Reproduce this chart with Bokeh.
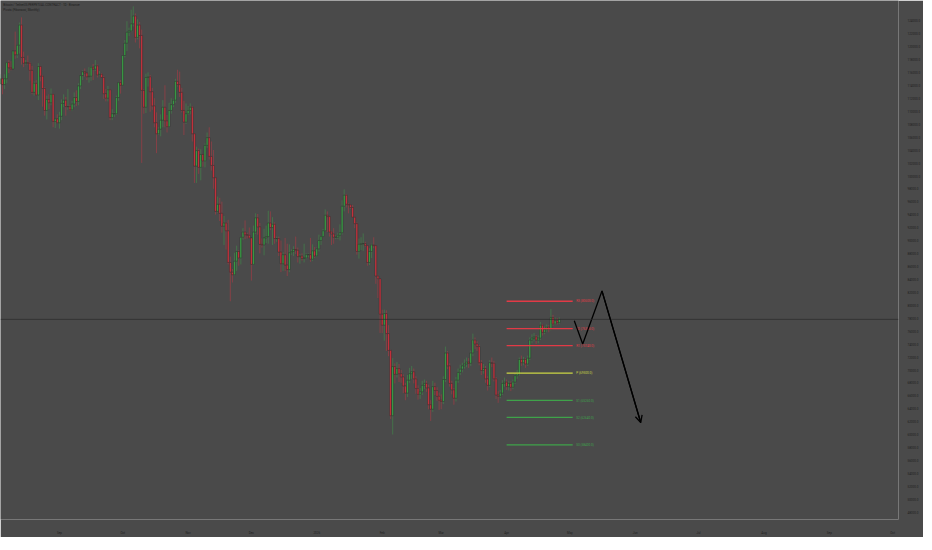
import pandas as pd
from bokeh.plotting import figure
from bokeh.models import (ColumnDataSource, Range1d, FixedTicker, NumeralTickFormatter,
                          Span, Label, Arrow, OpenHead)
from bokeh.core.properties import value
from bokeh.embed import file_html
from bokeh.resources import INLINE

# daily BTCUSDT candles, prices in thousands of USDT, first candle 2025-08-04
first_day = "2025-08-04"
first_open = 114.2

close_aug = [115.0, 114.1, 115.0, 117.5, 116.7, 116.5, 119.3, 118.7, 120.2, 123.3, 118.3, 117.4, 117.5, 117.4,
             116.3, 112.9, 114.3, 112.5, 116.9, 115.4, 113.5, 110.1, 111.8, 111.3, 112.6, 108.4, 108.8, 108.2]
high_aug = [115.7, 115.1, 115.7, 117.6, 117.9, 117.7, 119.3, 122.3, 120.3, 123.7, 124.5, 119.2, 117.9, 118.6,
            117.6, 117.0, 114.6, 114.8, 117.4, 117.0, 115.6, 113.7, 112.4, 112.6, 113.5, 112.7, 108.9, 109.5]
low_aug = [114.1, 112.6, 113.4, 114.3, 115.9, 116.3, 116.5, 118.1, 118.2, 118.9, 117.2, 116.8, 117.2, 117.2,
           114.7, 112.6, 112.4, 112.4, 111.7, 114.6, 110.7, 109.3, 108.7, 110.3, 110.9, 107.5, 107.4, 108.1]

close_sep = [109.2, 111.2, 111.7, 110.7, 110.7, 110.2, 111.1, 112.1, 111.5, 113.9, 115.5, 116.1, 115.9, 115.3, 115.4,
             116.8, 116.5, 117.0, 115.6, 115.7, 115.2, 112.7, 112.0, 113.3, 109.0, 109.6, 109.6, 112.1, 114.4, 114.0]
high_sep = [109.9, 111.8, 112.6, 112.2, 113.4, 111.0, 111.6, 112.9, 113.2, 114.3, 115.5, 116.3, 116.6, 116.0, 116.8,
            117.0, 117.3, 117.9, 117.2, 116.2, 115.9, 115.4, 113.4, 113.9, 113.4, 110.3, 109.8, 112.4, 114.5, 114.8]
low_sep = [107.3, 108.6, 110.6, 109.3, 110.2, 110.0, 110.0, 110.6, 110.8, 110.9, 113.4, 114.8, 115.3, 114.8, 114.4,
           114.7, 114.8, 116.2, 115.2, 115.4, 115.2, 111.9, 111.5, 111.5, 108.6, 108.6, 109.1, 109.4, 111.6, 112.7]

close_oct = [118.6, 120.5, 122.2, 122.4, 123.5, 124.7, 121.4, 123.3, 121.7, 113.2, 110.6, 115.2, 115.3, 113.0, 110.8,
             108.2, 106.5, 107.2, 108.6, 110.6, 108.5, 107.6, 110.1, 111.0, 111.7, 114.6, 114.1, 112.9, 110.1, 108.3, 109.6]
high_oct = [118.7, 121.0, 123.9, 122.9, 125.7, 126.2, 125.1, 124.2, 123.8, 122.6, 113.4, 115.8, 116.0, 115.6, 113.6,
            112.0, 109.8, 107.5, 109.5, 111.7, 114.0, 109.4, 111.3, 112.0, 111.9, 115.0, 116.4, 116.1, 113.6, 111.6, 111.2]
low_oct = [113.9, 118.3, 119.3, 121.6, 122.2, 123.1, 120.6, 121.1, 119.7, 102.0, 109.6, 109.7, 113.8, 109.9, 110.2,
           107.5, 103.5, 106.3, 106.1, 107.5, 107.5, 106.7, 107.5, 109.6, 110.6, 111.3, 113.8, 112.2, 109.8, 106.3, 108.0]

close_nov = [110.1, 110.6, 106.5, 101.5, 103.9, 101.3, 103.3, 102.3, 104.7, 105.9, 103.0, 101.6, 99.7, 94.5, 95.6,
             94.2, 92.2, 92.7, 91.5, 86.6, 85.1, 84.7, 86.8, 88.3, 87.3, 90.5, 91.3, 90.9, 90.8, 90.4]
high_nov = [110.8, 111.2, 110.8, 106.6, 104.5, 104.2, 104.1, 103.4, 105.0, 106.7, 107.5, 105.3, 104.0, 99.8, 96.8,
            96.6, 96.0, 93.8, 92.9, 93.2, 87.5, 85.6, 88.1, 89.2, 88.5, 90.6, 91.9, 93.1, 91.2, 92.0]
low_nov = [109.4, 109.5, 105.3, 98.9, 98.9, 100.3, 99.3, 101.4, 101.3, 104.3, 102.5, 100.8, 98.0, 94.0, 94.3,
           93.0, 91.2, 89.3, 88.6, 86.3, 80.6, 83.5, 84.6, 85.3, 86.1, 86.3, 90.1, 90.2, 90.3, 90.3]

close_dec = [86.3, 91.3, 93.5, 92.1, 89.4, 89.3, 90.4, 90.6, 92.7, 92.0, 92.5, 90.3, 90.3, 88.2, 86.4, 87.8,
             86.2, 85.5, 88.1, 88.3, 88.6, 88.5, 87.5, 87.6, 87.2, 87.3, 87.8, 87.8, 87.1, 88.4, 87.6]
high_dec = [90.4, 92.3, 94.2, 94.1, 92.7, 90.3, 91.8, 92.3, 94.6, 94.5, 93.6, 92.8, 90.6, 90.6, 90.0, 88.2,
            90.4, 89.5, 89.4, 88.6, 89.1, 90.6, 88.9, 87.9, 88.0, 89.5, 88.0, 88.0, 90.4, 89.4, 89.0]
low_dec = [83.8, 86.2, 91.0, 90.9, 88.0, 88.9, 87.7, 89.6, 89.5, 91.6, 89.3, 89.5, 89.8, 87.6, 85.1, 85.3,
           85.3, 84.5, 85.1, 87.8, 87.6, 87.9, 86.6, 86.4, 86.9, 86.6, 87.1, 87.4, 86.7, 86.8, 87.3]

close_jan = [88.7, 90.0, 90.6, 91.5, 93.9, 93.7, 91.3, 91.0, 90.5, 90.5, 90.8, 91.2, 95.3, 97.0, 95.6, 95.5,
             95.1, 93.6, 92.6, 88.3, 89.4, 89.5, 89.5, 89.2, 86.6, 88.3, 89.3, 89.2, 84.5, 84.1, 78.6]
high_jan = [88.9, 90.9, 90.7, 91.8, 94.8, 94.5, 93.7, 91.5, 91.9, 90.8, 91.2, 92.5, 96.2, 97.9, 97.2, 95.8,
            95.6, 95.5, 93.7, 92.8, 90.3, 90.5, 91.1, 89.8, 89.3, 88.8, 89.5, 90.5, 89.3, 84.7, 84.1]
low_jan = [87.4, 88.3, 89.3, 90.5, 91.4, 91.3, 90.6, 89.3, 89.5, 90.2, 90.2, 90.0, 90.9, 94.5, 95.1, 94.2,
           94.9, 93.6, 91.9, 87.8, 87.2, 88.5, 88.4, 89.0, 86.1, 86.2, 87.3, 88.8, 83.3, 81.1, 75.7]

close_feb = [76.9, 78.7, 75.6, 73.0, 62.9, 70.5, 69.3, 70.2, 69.4, 68.9, 67.5, 66.4, 68.4, 69.4,
             69.7, 68.6, 67.1, 66.2, 66.6, 67.6, 67.9, 67.2, 64.6, 63.9, 67.4, 66.8, 65.9, 65.3]
high_feb = [79.3, 79.3, 79.2, 76.9, 73.1, 71.8, 71.0, 71.2, 70.9, 70.0, 69.3, 68.0, 69.2, 70.3,
            70.6, 70.2, 69.0, 67.6, 67.2, 68.3, 68.5, 68.3, 67.7, 65.3, 68.3, 68.0, 67.3, 66.5]
low_feb = [75.7, 74.5, 72.9, 72.1, 62.4, 60.0, 67.9, 68.8, 68.1, 68.0, 66.4, 65.3, 65.8, 68.0,
           68.6, 67.9, 66.3, 65.4, 65.5, 66.1, 67.0, 66.6, 63.9, 62.1, 63.5, 66.1, 65.2, 63.8]

close_mar = [65.1, 68.5, 72.6, 70.6, 67.9, 66.9, 65.6, 68.4, 69.6, 70.1, 70.6, 70.9, 71.2, 71.0, 72.6, 74.6,
             74.0, 73.6, 71.1, 69.9, 70.2, 68.6, 67.6, 71.1, 71.0, 68.6, 66.1, 65.9, 66.4, 67.9, 68.1]
high_mar = [66.2, 69.0, 73.6, 72.9, 71.0, 68.3, 67.2, 68.9, 70.2, 70.8, 71.1, 71.6, 71.9, 71.8, 73.0, 75.6,
            75.0, 74.4, 73.9, 71.5, 70.9, 70.6, 69.0, 71.5, 71.9, 71.4, 68.9, 66.7, 66.9, 68.4, 68.8]
low_mar = [63.9, 64.7, 68.1, 70.1, 67.4, 66.2, 64.6, 65.1, 68.0, 69.2, 69.6, 70.2, 70.4, 70.3, 70.6, 72.1,
           73.2, 72.9, 70.7, 69.2, 69.4, 68.0, 66.8, 67.3, 70.4, 68.2, 65.5, 64.9, 65.6, 66.1, 67.4]

close_apr = [67.4, 67.9, 67.3, 68.1, 69.1, 69.4, 71.6, 71.1, 71.6, 70.9, 71.8, 74.6, 74.9,
             75.1, 74.6, 74.9, 76.9, 75.8, 76.2, 76.6, 76.3, 78.1, 77.1, 77.6, 77.3, 77.8]
high_apr = [68.5, 68.3, 68.2, 68.5, 69.4, 70.0, 71.9, 72.2, 72.0, 71.8, 72.2, 75.0, 75.5,
            75.7, 75.4, 75.3, 77.4, 77.1, 76.7, 77.0, 76.9, 79.4, 78.5, 78.1, 78.0, 78.1]
low_apr = [66.9, 66.8, 66.7, 67.0, 67.8, 68.6, 69.1, 70.6, 70.7, 70.3, 70.6, 71.5, 74.1,
           74.4, 74.0, 74.1, 74.6, 75.3, 75.5, 75.9, 75.8, 76.1, 76.8, 76.9, 77.0, 77.1]

# monthly fibonacci pivots (April)
pivot_names = ["R3", "R2", "R1", "P", "S1", "S2", "S3"]
pivot_levels = [80600.0, 76360.0, 73740.0, 69500.0, 65260.0, 62640.0, 58400.0]
pivot_colors = ["#e23a46", "#e23a46", "#e23a46", "#cbd645", "#3fa34a", "#3fa34a", "#3fa34a"]
pivot_start = "2026-04-01"
pivot_end = "2026-05-02 08:00"
pivot_text_at = "2026-05-04"

# hand-drawn projection path
path_dates = ["2026-05-03 02:00", "2026-05-07 02:00", "2026-05-16 05:00", "2026-06-03 14:00"]
path_prices = [77600, 74000, 82200, 61850]

month_ticks = ["2025-09-01", "2025-10-01", "2025-11-01", "2025-12-01", "2026-01-01", "2026-02-01", "2026-03-01",
               "2026-04-01", "2026-05-01", "2026-06-01", "2026-07-01", "2026-08-01", "2026-09-01", "2026-10-01"]
month_labels = ["Sep", "Oct", "Nov", "Dec", "2026", "Feb", "Mar", "Apr", "May", "Jun", "Jul", "Aug", "Sep", "Oct"]
price_ticks = list(range(48000, 126000, 2000))

closes = close_aug + close_sep + close_oct + close_nov + close_dec + close_jan + close_feb + close_mar + close_apr
highs = high_aug + high_sep + high_oct + high_nov + high_dec + high_jan + high_feb + high_mar + high_apr
lows = low_aug + low_sep + low_oct + low_nov + low_dec + low_jan + low_feb + low_mar + low_apr
opens = [first_open] + closes[:-1]
dates = pd.date_range(first_day, periods=len(closes), freq="D")

BG = "#4a4a4a"
UP = "#3cb04a"
DOWN = "#e23340"
TXT = "#202020"
day_ms = 86400000

colors = [UP if c >= o else DOWN for o, c in zip(opens, closes)]
src = ColumnDataSource(dict(
    date=dates,
    high=[h * 1000 for h in highs],
    low=[l * 1000 for l in lows],
    top=[max(o, c) * 1000 for o, c in zip(opens, closes)],
    bottom=[min(o, c) * 1000 for o, c in zip(opens, closes)],
    color=colors,
))

sep1 = pd.Timestamp("2025-09-01")
p = figure(frame_width=898, frame_height=519, x_axis_type="datetime", y_axis_location="right",
           x_range=Range1d(sep1 - pd.Timedelta(days=27.95), sep1 + pd.Timedelta(days=397.8)),
           y_range=Range1d(46855, 127105),
           output_backend="svg", toolbar_location=None,
           min_border_left=0, min_border_top=0, min_border_right=18, min_border_bottom=15)
p.background_fill_color = BG
p.border_fill_color = BG
p.outline_line_color = None
p.grid.visible = False

p.segment(x0="date", y0="low", x1="date", y1="high", source=src, line_color="color",
          line_alpha=0.4, line_width=1)
p.vbar(x="date", width=day_ms * 0.78, top="top", bottom="bottom", source=src,
       fill_color="color", line_color="#2c2c2c", line_width=0.5)

# last price line
p.add_layout(Span(location=closes[-1] * 1000, dimension="width", line_color="#2b2b2b", line_width=0.7))

# pivots
p.segment(x0=[pd.Timestamp(pivot_start)] * 7, x1=[pd.Timestamp(pivot_end)] * 7,
          y0=pivot_levels, y1=pivot_levels, line_color=pivot_colors, line_width=1.3)
p.text(x=[pd.Timestamp(pivot_text_at)] * 7, y=pivot_levels,
       text=[f"{n} ({v:.1f})" for n, v in zip(pivot_names, pivot_levels)],
       text_color=pivot_colors, text_font_size="3.1px", text_baseline="middle",
       text_font=value("Roboto"))

# projection path
px = [pd.Timestamp(d) for d in path_dates]
p.line(px, path_prices, line_color="black", line_width=1.3)
p.add_layout(Arrow(end=OpenHead(size=7, line_color="black", line_width=1.3),
                   x_start=px[-2], y_start=path_prices[-2], x_end=px[-1], y_end=path_prices[-1],
                   line_color="black", line_width=1.3))

# axes
ax = p.yaxis[0]
ax.ticker = FixedTicker(ticks=price_ticks)
ax.formatter = NumeralTickFormatter(format="0.0")
ax.axis_line_color = None
ax.major_tick_line_color = None
ax.minor_tick_line_color = None
ax.major_label_text_font_size = "3px"
ax.major_label_text_color = TXT
ax.major_label_text_font = "Roboto"
ax.major_label_standoff = 3

xa = p.xaxis[0]
tick_ms = [float(pd.Timestamp(t).value // 10**6) for t in month_ticks]
xa.ticker = FixedTicker(ticks=tick_ms)
xa.major_label_overrides = {t: lab for t, lab in zip(tick_ms, month_labels)}
xa.axis_line_color = None
xa.major_tick_line_color = None
xa.minor_tick_line_color = None
xa.major_label_text_font_size = "3px"
xa.major_label_text_color = TXT
xa.major_label_text_font = "Roboto"
xa.major_label_standoff = 5

# header texts
p.add_layout(Label(x=sep1 - pd.Timedelta(days=26.6), y=126400, text_baseline="middle",
                   text="Bitcoin / TetherUS PERPETUAL CONTRACT · 1D · Binance",
                   text_font_size="3px", text_color=TXT, text_font="Roboto"))
p.add_layout(Label(x=sep1 - pd.Timedelta(days=26.6), y=125650, text_baseline="middle",
                   text="Pivots (Fibonacci, Monthly)",
                   text_font_size="3px", text_color=TXT, text_font="Roboto"))

# right-side price tags
p.add_layout(Label(x=sep1 + pd.Timedelta(days=398.6), y=126300, text="USDT", text_baseline="middle",
                   text_font_size="3px", text_color="#d0d0d0", text_font="Roboto",
                   background_fill_color="#141414", border_line_color="#141414", padding=2))
p.add_layout(Label(x=sep1 + pd.Timedelta(days=398.6), y=closes[-1] * 1000, y_offset=1,
                   text=f"{closes[-1] * 1000:.1f}", text_baseline="bottom",
                   text_font_size="3px", text_color="#9ed36a", text_font="Roboto",
                   background_fill_color="#141414", padding=1))
p.add_layout(Label(x=sep1 + pd.Timedelta(days=398.6), y=closes[-1] * 1000, y_offset=-1,
                   text="09:15:15", text_baseline="top",
                   text_font_size="3px", text_color="#9ed36a", text_font="Roboto",
                   background_fill_color="#141414", padding=1))

open("out.html", "w").write(file_html(p, INLINE))
